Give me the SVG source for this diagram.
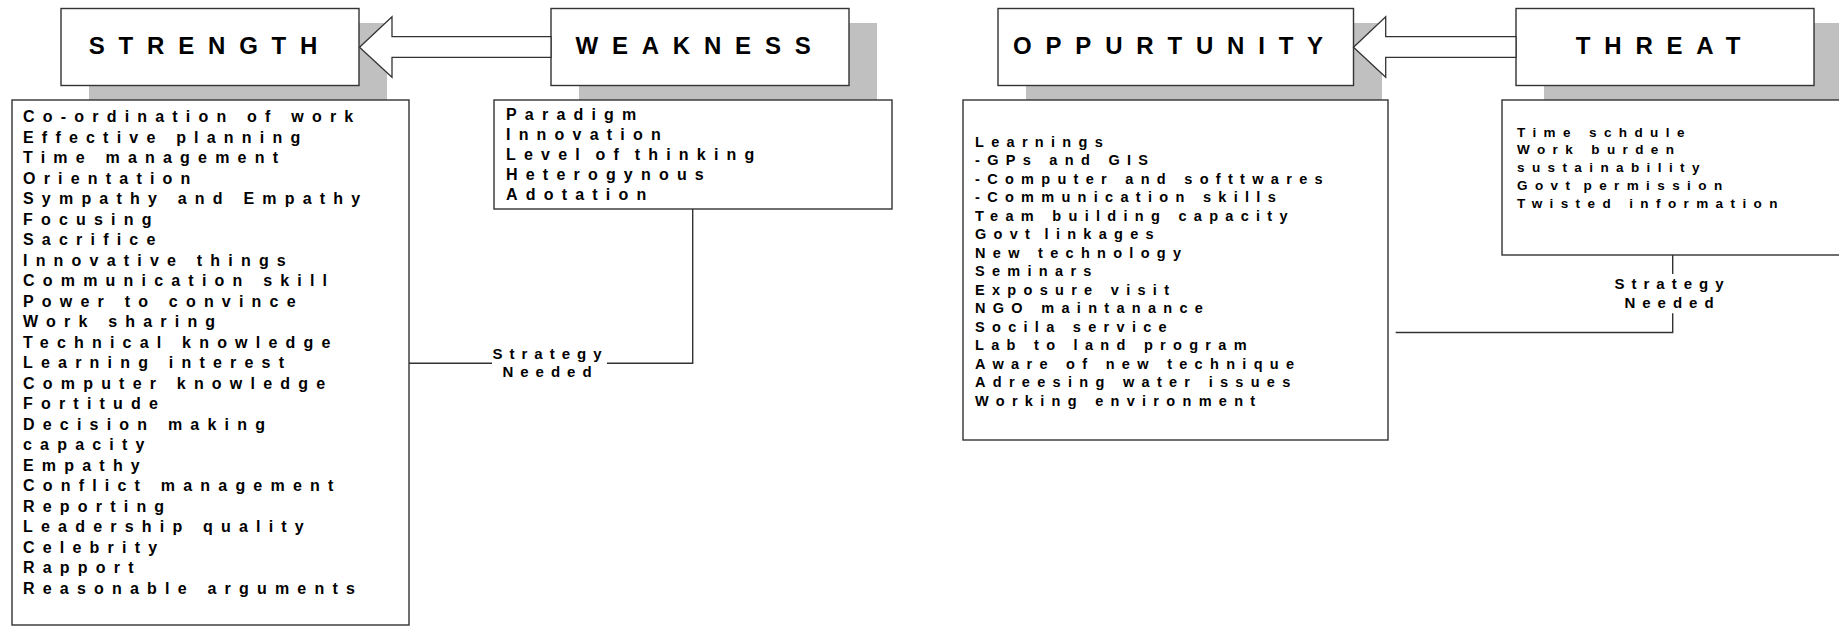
<svg xmlns="http://www.w3.org/2000/svg" width="1839" height="627" viewBox="0 0 1839 627">
<style>
.bg{fill:#ffffff}
.sh{fill:#c0c0c0;stroke:none}
.box{fill:#ffffff;stroke:#333333;stroke-width:1.4}
.ttl{font-family:"Liberation Sans",Arial,sans-serif;font-weight:bold;font-size:24px;letter-spacing:13.8px;fill:#000;text-anchor:middle}
.l15{font-family:"Liberation Sans",Arial,sans-serif;font-weight:bold;font-size:16px;letter-spacing:8.2px;fill:#000}
.l14{font-family:"Liberation Sans",Arial,sans-serif;font-weight:bold;font-size:14.5px;letter-spacing:7.3px;fill:#000}
.l13{font-family:"Liberation Sans",Arial,sans-serif;font-weight:bold;font-size:13.5px;letter-spacing:7.4px;fill:#000}
.st{font-family:"Liberation Sans",Arial,sans-serif;font-weight:bold;font-size:15px;letter-spacing:7px;fill:#000;text-anchor:middle}
.ln{fill:none;stroke:#333333;stroke-width:1.4}
.arr{fill:#ffffff;stroke:#333333;stroke-width:1.3;stroke-linejoin:miter}
</style>
<rect class="bg" x="0" y="0" width="1839" height="627"/>

<g id="strength">
<rect class="sh" x="89" y="23" width="298" height="77"/>
<rect class="box" x="61" y="8.5" width="298" height="77"/>
<text class="ttl" x="210" y="54">STRENGTH</text>
<rect class="box" x="12" y="100" width="397" height="525"/>
<text class="l15">
<tspan x="23" y="122">Co-ordination of work</tspan>
<tspan x="23" dy="20.5">Effective planning</tspan>
<tspan x="23" dy="20.5">Time management</tspan>
<tspan x="23" dy="20.5">Orientation</tspan>
<tspan x="23" dy="20.5">Sympathy and Empathy</tspan>
<tspan x="23" dy="20.5">Focusing</tspan>
<tspan x="23" dy="20.5">Sacrifice</tspan>
<tspan x="23" dy="20.5">Innovative things</tspan>
<tspan x="23" dy="20.5">Communication skill</tspan>
<tspan x="23" dy="20.5">Power to convince</tspan>
<tspan x="23" dy="20.5">Work sharing</tspan>
<tspan x="23" dy="20.5">Technical knowledge</tspan>
<tspan x="23" dy="20.5">Learning interest</tspan>
<tspan x="23" dy="20.5">Computer knowledge</tspan>
<tspan x="23" dy="20.5">Fortitude</tspan>
<tspan x="23" dy="20.5">Decision making</tspan>
<tspan x="23" dy="20.5">capacity</tspan>
<tspan x="23" dy="20.5">Empathy</tspan>
<tspan x="23" dy="20.5">Conflict management</tspan>
<tspan x="23" dy="20.5">Reporting</tspan>
<tspan x="23" dy="20.5">Leadership quality</tspan>
<tspan x="23" dy="20.5">Celebrity</tspan>
<tspan x="23" dy="20.5">Rapport</tspan>
<tspan x="23" dy="20.5">Reasonable arguments</tspan>
</text>
</g>

<g id="weakness">
<rect class="sh" x="579" y="23" width="298" height="77"/>
<rect class="box" x="551" y="8.5" width="298" height="77"/>
<text class="ttl" x="700" y="54">WEAKNESS</text>
<rect class="box" x="494" y="100" width="398" height="109"/>
<text class="l15">
<tspan x="506" y="119.5">Paradigm</tspan>
<tspan x="506" dy="20">Innovation</tspan>
<tspan x="506" dy="20" word-spacing="-5">Level of thinking</tspan>
<tspan x="506" dy="20">Heterogynous</tspan>
<tspan x="506" dy="20">Adotation</tspan>
</text>
</g>

<g id="oppurtunity">
<rect class="sh" x="1026" y="23" width="356" height="77"/>
<rect class="box" x="998" y="8.5" width="355.5" height="77"/>
<text class="ttl" x="1175" y="54">OPPURTUNITY</text>
<rect class="box" x="963" y="100" width="425" height="340"/>
<text class="l14">
<tspan x="975" y="146.7">Learnings</tspan>
<tspan x="975" dy="18.5">-GPs and GIS</tspan>
<tspan x="975" dy="18.5">-Computer and softtwares</tspan>
<tspan x="975" dy="18.5">-Communication skills</tspan>
<tspan x="975" dy="18.5">Team building capacity</tspan>
<tspan x="975" dy="18.5" word-spacing="-4">Govt linkages</tspan>
<tspan x="975" dy="18.5">New technology</tspan>
<tspan x="975" dy="18.5">Seminars</tspan>
<tspan x="975" dy="18.5">Exposure visit</tspan>
<tspan x="975" dy="18.5">NGO maintanance</tspan>
<tspan x="975" dy="18.5">Socila service</tspan>
<tspan x="975" dy="18.5">Lab to land program</tspan>
<tspan x="975" dy="18.5">Aware of new technique</tspan>
<tspan x="975" dy="18.5">Adreesing water issues</tspan>
<tspan x="975" dy="18.5">Working environment</tspan>
</text>
</g>

<g id="threat">
<rect class="sh" x="1544" y="23" width="298" height="77"/>
<rect class="box" x="1516" y="8.5" width="298" height="77"/>
<text class="ttl" x="1665" y="54">THREAT</text>
<rect class="box" x="1502" y="100" width="360" height="155"/>
<text class="l13">
<tspan x="1517" y="136.7">Time schdule</tspan>
<tspan x="1517" dy="17.75">Work burden</tspan>
<tspan x="1517" dy="17.75">sustainability</tspan>
<tspan x="1517" dy="17.75" word-spacing="-5">Govt permission</tspan>
<tspan x="1517" dy="17.75">Twisted information</tspan>
</text>
</g>

<g id="connectors">
<polygon class="arr" points="359.5,47.3 392,16.7 392,36.7 551,36.7 551,57.3 392,57.3 392,77.3"/>
<polygon class="arr" points="1353.5,47.3 1385.7,16.7 1385.7,36.7 1516,36.7 1516,57.3 1385.7,57.3 1385.7,77.3"/>
<line class="ln" x1="409" y1="363.3" x2="492" y2="363.3"/>
<polyline class="ln" points="607,363.3 692.7,363.3 692.7,209"/>
<text class="st" x="550.5" y="359.3">Strategy</text>
<text class="st" x="550.5" y="376.7">Needed</text>
<line class="ln" x1="1672.7" y1="255" x2="1672.7" y2="274"/>
<polyline class="ln" points="1672.7,313.3 1672.7,332.5 1395.7,332.5"/>
<text class="st" x="1672.5" y="289.3">Strategy</text>
<text class="st" x="1672.5" y="308.3">Needed</text>
</g>
</svg>
